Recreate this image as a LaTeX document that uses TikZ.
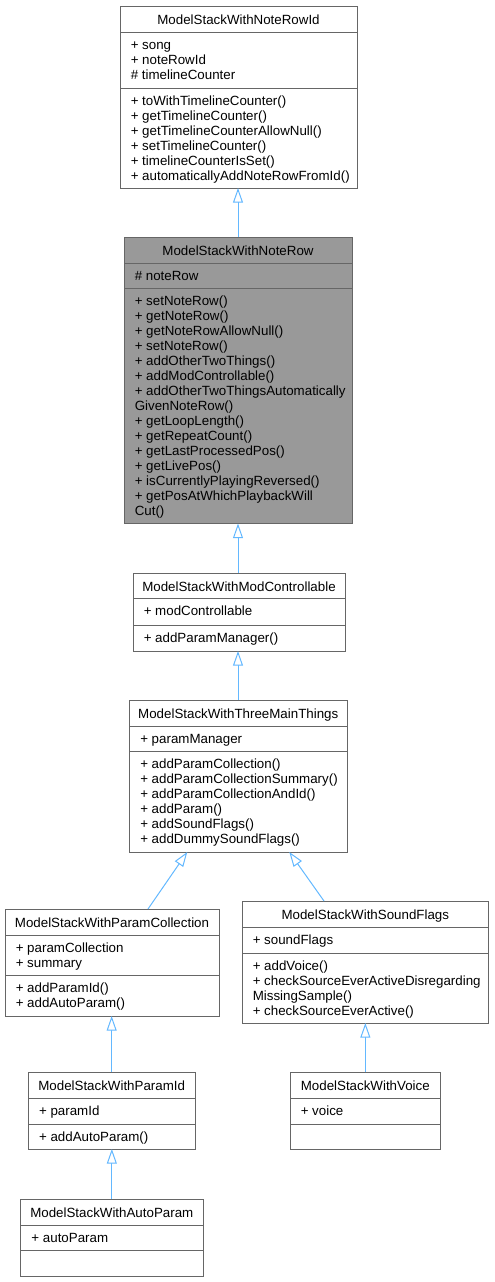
\documentclass[tikz,border=0pt]{standalone}
\usepackage{fontspec}
\setmainfont{Liberation Sans}
\usetikzlibrary{arrows.meta,calc}
\definecolor{bordc}{HTML}{666666}
\definecolor{hlfill}{HTML}{999999}
\definecolor{edgec}{HTML}{63B8FF}
\tikzset{
  ubox/.style={draw=bordc, line width=0.75pt, inner sep=0pt, outer sep=0pt, anchor=north west},
  udiv/.style={draw=bordc, line width=0.75pt},
  utext/.style={anchor=base west, inner sep=0pt, font=\fontsize{10}{12}\selectfont},
  utitle/.style={anchor=base, inner sep=0pt, font=\fontsize{10}{12}\selectfont},
  inh/.style={draw=edgec, line width=0.75pt, -{Triangle[open, length=11pt, width=7.5pt, fill=white]}}
}
% name, left, top, right, bottom, fill
\newcommand\umlbox[6]{%
  \node[ubox, fill=#6, minimum width={(#4-#2)*0.75pt}, minimum height={(#5-#3)*0.75pt}] (#1) at (#2,#3) {};}
% name prefix, x, first baseline, list
\newcommand\ulines[4]{%
  \foreach \t [count=\i from 0] in {#4} \node[utext] (#1\i) at (#2, #3+15*\i) {\t};}
\begin{document}
\begin{tikzpicture}[x=0.75pt, y=-0.75pt]
\useasboundingbox (0,0) rectangle (494,1282);

% Box 1
\umlbox{b1}{120}{6}{357}{188}{white}
\draw[udiv] (120,32) -- (357,32);
\draw[udiv] (120,88) -- (357,88);
\node[utitle] (b1t) at (238.5,24) {ModelStackWithNoteRowId};
\ulines{b1a}{130.5}{49.5}{+ song, + noteRowId, \# timelineCounter}
\ulines{b1m}{130.5}{105.5}{+ toWithTimelineCounter(), + getTimelineCounter(), + getTimelineCounterAllowNull(), + setTimelineCounter(), + timelineCounterIsSet(), + automaticallyAddNoteRowFromId()}

% Box 2
\umlbox{b2}{124}{237}{352}{523.5}{hlfill}
\draw[udiv] (124,263) -- (352,263);
\draw[udiv] (124,288) -- (352,288);
\node[utitle] (b2t) at (238,255) {ModelStackWithNoteRow};
\ulines{b2a}{134.5}{280.5}{\# noteRow}
\ulines{b2m}{134.5}{305.5}{+ setNoteRow(), + getNoteRow(), + getNoteRowAllowNull(), + setNoteRow(), + addOtherTwoThings(), + addModControllable(), + addOtherTwoThingsAutomatically, GivenNoteRow(), + getLoopLength(), + getRepeatCount(), + getLastProcessedPos(), + getLivePos(), + isCurrentlyPlayingReversed(), + getPosAtWhichPlaybackWill, Cut()}

% Box 3
\umlbox{b3}{133}{573}{345}{651}{white}
\draw[udiv] (133,598) -- (345,598);
\draw[udiv] (133,625) -- (345,625);
\node[utitle] (b3t) at (239,591) {ModelStackWithModControllable};
\ulines{b3a}{143.5}{615.5}{+ modControllable}
\ulines{b3m}{143.5}{642.5}{+ addParamManager()}

% Box 4
\umlbox{b4}{129.5}{700}{347}{852}{white}
\draw[udiv] (129.5,726) -- (347,726);
\draw[udiv] (129.5,751) -- (347,751);
\node[utitle] (b4t) at (238.25,718) {ModelStackWithThreeMainThings};
\ulines{b4a}{140}{743.5}{+ paramManager}
\ulines{b4m}{140}{768.5}{+ addParamCollection(), + addParamCollectionSummary(), + addParamCollectionAndId(), + addParam(), + addSoundFlags(), + addDummySoundFlags()}

% Box 5
\umlbox{pc}{5}{909}{219}{1016}{white}
\draw[udiv] (5,935) -- (219,935);
\draw[udiv] (5,975) -- (219,975);
\node[utitle] (pct) at (112,927) {ModelStackWithParamCollection};
\ulines{pca}{15.5}{952.5}{+ paramCollection, + summary}
\ulines{pcm}{15.5}{992.5}{+ addParamId(), + addAutoParam()}

% Box 6
\umlbox{sf}{242}{901}{488.7}{1023}{white}
\draw[udiv] (242,927) -- (488.7,927);
\draw[udiv] (242,953) -- (488.7,953);
\node[utitle] (sft) at (365.3,919) {ModelStackWithSoundFlags};
\ulines{sfa}{252.5}{944.5}{+ soundFlags}
\ulines{sfm}{252.5}{970.5}{+ addVoice(), + checkSourceEverActiveDisregarding, MissingSample(), + checkSourceEverActive()}

% Box 7
\umlbox{pid}{28.3}{1072}{195}{1149}{white}
\draw[udiv] (28.3,1098) -- (195,1098);
\draw[udiv] (28.3,1124) -- (195,1124);
\node[utitle] (pidt) at (111.7,1090) {ModelStackWithParamId};
\ulines{pida}{38.8}{1115.5}{+ paramId}
\ulines{pidm}{38.8}{1141.5}{+ addAutoParam()}

% Box 8
\umlbox{vo}{290}{1072}{440.7}{1149}{white}
\draw[udiv] (290,1098) -- (440.7,1098);
\draw[udiv] (290,1124) -- (440.7,1124);
\node[utitle] (vot) at (365.3,1090) {ModelStackWithVoice};
\ulines{voa}{300.5}{1115.5}{+ voice}

% Box 9
\umlbox{ap}{20.7}{1199}{203}{1276}{white}
\draw[udiv] (20.7,1225) -- (203,1225);
\draw[udiv] (20.7,1250) -- (203,1250);
\node[utitle] (apt) at (111.8,1217) {ModelStackWithAutoParam};
\ulines{apa}{31.2}{1242.5}{+ autoParam}

% Inheritance arrows
\draw[inh] (b2.north) -- (b2.north |- b1.south);
\draw[inh] (b2.south |- b3.north) -- (b2.south);
\draw[inh] (b2.south |- b4.north) -- (b2.south |- b3.south);
\draw[inh] ($(pc.north west)+(143,0)$) -- ($(b4.south west)+(57.8,0)$);
\draw[inh] ($(sf.north west)+(82,0)$) -- ($(b4.south west)+(159.8,0)$);
\draw[inh] (pid.north) -- (pid.north |- pc.south);
\draw[inh] (ap.north) -- (ap.north |- pid.south);
\draw[inh] (vo.north) -- (vo.north |- sf.south);
\end{tikzpicture}
\end{document}
